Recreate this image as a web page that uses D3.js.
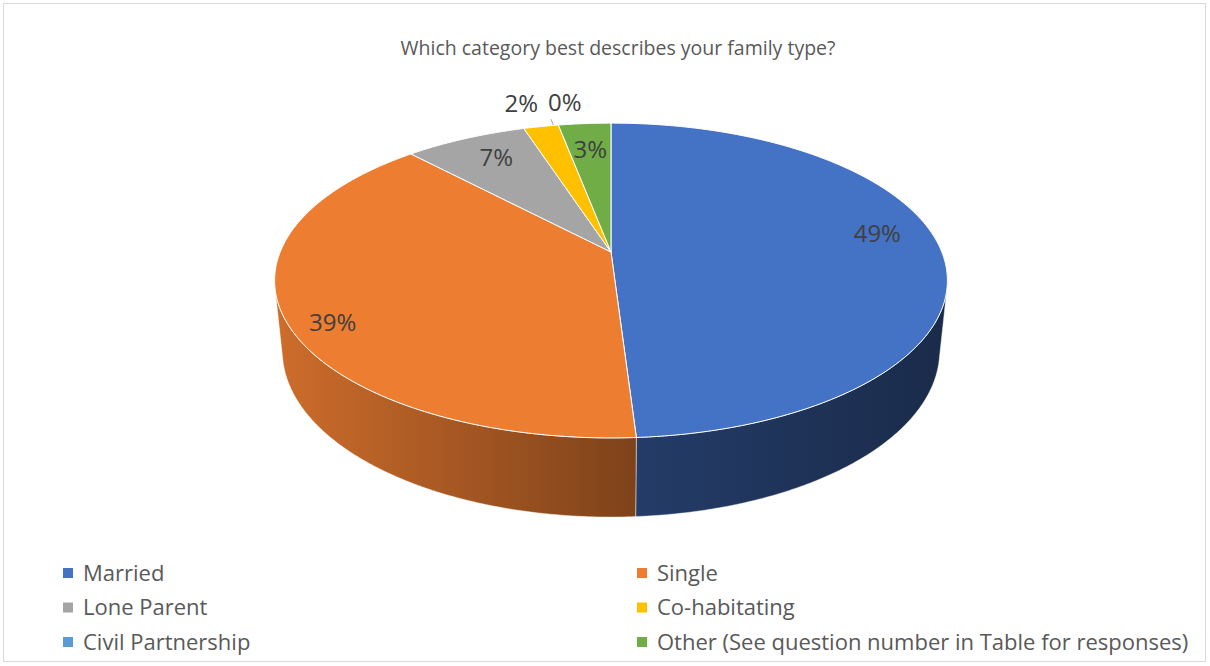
<!DOCTYPE html>
<html>
<head>
<meta charset="utf-8">
<script src="https://cdn.jsdelivr.net/npm/d3@7"></script>
<style>
  html, body { margin: 0; padding: 0; background: #fff; }
  svg { display: block; }
  text { font-family: "Open Sans", "Noto Sans", sans-serif; }
</style>
</head>
<body>
<svg id="chart" width="1210" height="666"></svg>
<script>
// Survey answers: "Which category best describes your family type?"
const title = "Which category best describes your family type?";
const categories = ["Married", "Single", "Lone Parent", "Co-habitating", "Civil Partnership", "Other (See question number in Table for responses)"];
const percents = [49, 39, 7, 2, 0, 3];
const colors = ["#4472C4", "#ED7D31", "#A5A5A5", "#FFC000", "#5B9BD5", "#70AD47"];

const W = 1210, H = 666;
const svg = d3.select("#chart");

// frame
svg.append("rect")
  .attr("x", 3.5).attr("y", 3.5)
  .attr("width", W - 8).attr("height", H - 8)
  .attr("fill", "#fff").attr("stroke", "#d9d9d9").attr("stroke-width", 1);

svg.append("text")
  .attr("x", 618).attr("y", 55)
  .attr("text-anchor", "middle")
  .attr("font-size", 19.5)
  .attr("fill", "#595959")
  .text(title);

// ---- 3D pie projection ----
const cx = 611, cy = 252;      // screen position of the pie centre
const focal = 1621;            // focal length in px (radius units -> px)
const camDist = 4.9;           // camera distance in radius units
const tilt = 27.4 * Math.PI / 180;
const sinT = Math.sin(tilt), cosT = Math.cos(tilt);
const thickness = 0.241;       // pie height in radius units

// theta: clockwise from 12 o'clock, r: radius fraction, y: height (0 = top face)
function proj(theta, r, y) {
  const x = r * Math.sin(theta);
  const z = -r * Math.cos(theta);
  const depth = camDist - y * sinT - z * cosT;
  const up = y * cosT - z * sinT;
  return [cx + focal * x / depth, cy - focal * up / depth];
}

const pie = d3.pie().sort(null).value(d => d.value).startAngle(0).endAngle(2 * Math.PI);
const arcs = pie(categories.map((c, i) => ({ name: c, value: percents[i], color: colors[i] })));

// visible part of the outer wall
const visA = Math.acos(-1 / (camDist * cosT));
const visB = 2 * Math.PI - visA;

const xs = d3.range(0, 2 * Math.PI, 0.01).map(t => proj(t, 1, 0)[0]);
const xMin = d3.min(xs), xMax = d3.max(xs);
const shadeX = d3.scaleLinear()
  .domain([xMin, 635, xMax])
  .range([0.87, 0.53, 0.38]);

const defs = svg.append("defs");
arcs.forEach((a, i) => {
  const g = defs.append("linearGradient")
    .attr("id", "wall" + i)
    .attr("gradientUnits", "userSpaceOnUse")
    .attr("x1", xMin).attr("x2", xMax).attr("y1", 0).attr("y2", 0);
  const base = d3.rgb(a.data.color);
  [xMin, 635, xMax].forEach(xv => {
    const k = shadeX(xv);
    g.append("stop")
      .attr("offset", (xv - xMin) / (xMax - xMin))
      .attr("stop-color", d3.rgb(base.r * k, base.g * k, base.b * k).formatHex());
  });
});

function angleSteps(a0, a1) {
  const n = Math.max(2, Math.ceil((a1 - a0) / 0.01));
  return d3.range(n + 1).map(k => a0 + (a1 - a0) * k / n);
}

const line = d3.line();

// outer walls
const walls = svg.append("g");
arcs.forEach((a, i) => {
  if (a.value <= 0) return;
  const a0 = Math.max(a.startAngle, visA), a1 = Math.min(a.endAngle, visB);
  if (a1 <= a0) return;
  const steps = angleSteps(a0, a1);
  const pts = steps.map(t => proj(t, 1, 0))
    .concat(steps.slice().reverse().map(t => proj(t, 1, -thickness)));
  walls.append("path")
    .attr("d", line(pts) + "Z")
    .attr("fill", `url(#wall${i})`)
    .attr("stroke", "#ffffff")
    .attr("stroke-opacity", 0.55)
    .attr("stroke-width", 0.8)
    .attr("stroke-linejoin", "round");
});

// top faces
const tops = svg.append("g");
arcs.forEach(a => {
  if (a.value <= 0) return;
  const pts = [proj(0, 0, 0)].concat(angleSteps(a.startAngle, a.endAngle).map(t => proj(t, 1, 0)));
  tops.append("path")
    .attr("d", line(pts) + "Z")
    .attr("fill", a.data.color)
    .attr("stroke", "#ffffff")
    .attr("stroke-width", 1)
    .attr("stroke-linejoin", "round");
});

// data labels: radius fraction and fine offsets
const labelR = [0.8, 0.86, 0.8, 1.15, 1.15, 0.8];
const labelNudge = [[3, -15], [0, 15], [5, -1], [-11, -7], [13, -7], [1, 4]];
const labels = svg.append("g");
arcs.forEach((a, i) => {
  const mid = (a.startAngle + a.endAngle) / 2;
  const p = proj(mid, labelR[i], 0);
  const lx = p[0] + labelNudge[i][0], ly = p[1] + labelNudge[i][1];
  if (a.value <= 0) {
    const r0 = proj(mid, 1.0, 0), r1 = proj(mid, 1.055, 0);
    labels.append("line")
      .attr("x1", r0[0] - 5).attr("y1", r0[1])
      .attr("x2", r1[0] - 5).attr("y2", r1[1])
      .attr("stroke", "#a6a6a6").attr("stroke-width", 1);
  }
  labels.append("text")
    .attr("x", lx).attr("y", ly)
    .attr("dy", "0.35em")
    .attr("text-anchor", "middle")
    .attr("font-size", 24)
    .attr("fill", "#404040")
    .text(Math.round(a.value) + "%");
});

// legend: two columns, three rows
const legendCols = [63, 637];
const legendRows = [573, 607.5, 642];
const legend = svg.append("g");
categories.forEach((c, i) => {
  const x = legendCols[i % 2], y = legendRows[Math.floor(i / 2)];
  legend.append("rect")
    .attr("x", x).attr("y", y - 5)
    .attr("width", 10).attr("height", 10)
    .attr("fill", colors[i]);
  legend.append("text")
    .attr("x", x + 20).attr("y", y)
    .attr("dy", "0.35em")
    .attr("font-size", 22)
    .attr("fill", "#595959")
    .text(c);
});
</script>
</body>
</html>
